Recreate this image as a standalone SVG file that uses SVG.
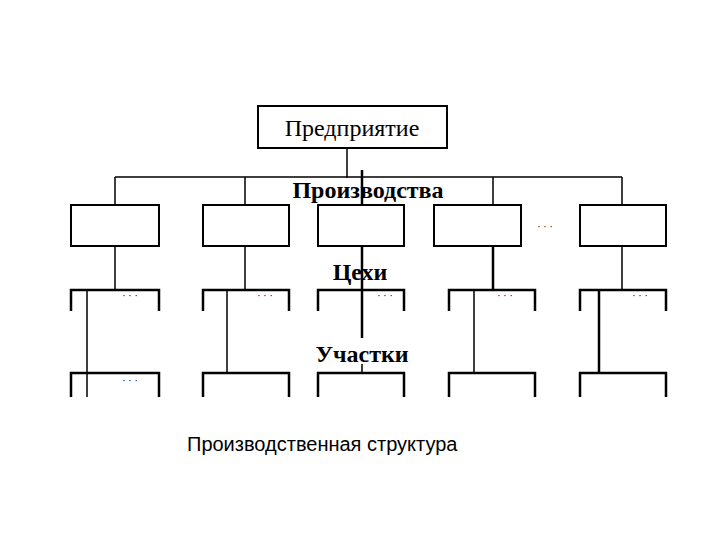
<svg xmlns="http://www.w3.org/2000/svg" width="720" height="540" viewBox="0 0 720 540">
<style>
.b{fill:#fff;stroke:#000;stroke-width:2}
.l{fill:none;stroke:#000;stroke-width:1.5}
.t{stroke-width:2.5}
.br{fill:none;stroke:#000;stroke-width:2.5}
.lab{font-family:"Liberation Serif",serif;font-size:24px;fill:#000;text-anchor:middle}
.d{font-family:"Liberation Sans",sans-serif;font-size:10px;fill:#000;text-anchor:middle}
</style>
<rect width="720" height="540" fill="#fff"/>
<g id="connectors">
<path class="l" d="M347 148V178M115 177H622M115 177V205M245 177V205M493 177V205M622 177V205"/>
<path class="l t" d="M362 170V338M493 246V290"/>
<path class="l" d="M115 246V290M245 246V290M622 246V290M362 364V374"/>
<path class="l" d="M87 290V397M227 290V372M474 290V372"/>
<path class="l t" d="M599 290V372"/>
</g>
<g id="n-enterprise"><rect class="b" x="258" y="106" width="189" height="42"/><text class="lab" x="352" y="136" font-size="22">Предприятие</text></g>
<g id="n-labels">
<text class="lab" x="368" y="198" font-weight="bold">Производства</text>
<text class="lab" x="360" y="280" font-weight="bold">Цехи</text>
<text class="lab" x="362" y="362" font-weight="bold">Участки</text>
</g>
<g id="n-prod1"><rect class="b" x="71" y="205" width="88" height="41"/></g>
<g id="n-prod2"><rect class="b" x="203" y="205" width="86" height="41"/></g>
<g id="n-prod3"><rect class="b" x="318" y="205" width="86" height="41"/></g>
<g id="n-prod4"><rect class="b" x="434" y="205" width="87" height="41"/></g>
<g id="n-prod5"><rect class="b" x="580" y="205" width="86" height="41"/></g>
<text class="d" x="545" y="230">· · ·</text>
<g id="n-shop1"><path class="br" d="M71 311V290H159V311"/><text class="d" x="130" y="299">· · ·</text></g>
<g id="n-shop2"><path class="br" d="M203 311V290H289V311"/><text class="d" x="265" y="299">· · ·</text></g>
<g id="n-shop3"><path class="br" d="M318 311V290H404V311"/><text class="d" x="385" y="299">· · ·</text></g>
<g id="n-shop4"><path class="br" d="M449 311V290H535V311"/><text class="d" x="505" y="299">· · ·</text></g>
<g id="n-shop5"><path class="br" d="M580 311V290H666V311"/><text class="d" x="640" y="299">· · ·</text></g>
<g id="n-sec1"><path class="br" d="M71 397V373H159V397"/><text class="d" x="130" y="384">· · ·</text></g>
<g id="n-sec2"><path class="br" d="M203 397V373H289V397"/></g>
<g id="n-sec3"><path class="br" d="M318 397V373H404V397"/></g>
<g id="n-sec4"><path class="br" d="M449 397V373H535V397"/></g>
<g id="n-sec5"><path class="br" d="M580 397V373H666V397"/></g>
<text x="187" y="451" font-family="Liberation Sans,Arial,sans-serif" font-size="20">Производственная структура</text>
</svg>
